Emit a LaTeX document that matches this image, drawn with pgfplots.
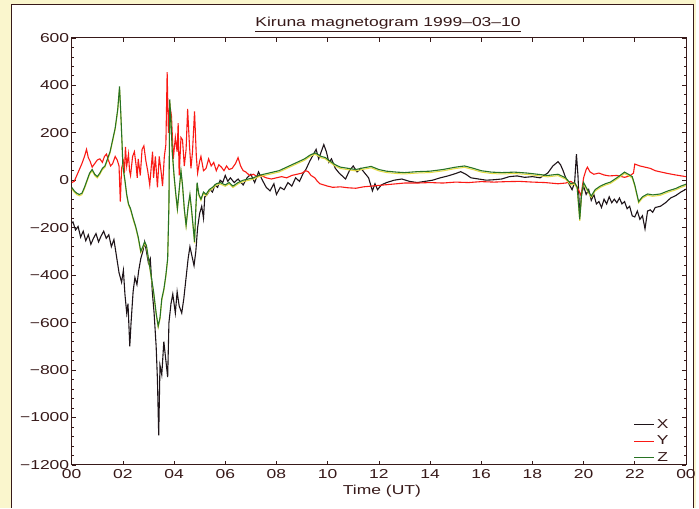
\documentclass[border=0pt]{standalone}
\usepackage{fontspec}
\setmainfont{Liberation Sans}[FakeStretch=1.35]
\usepackage{pgfplots}
\pgfplotsset{compat=1.18}
\usepackage{pgfplotstable}

\definecolor{bgbeige}{RGB}{250,246,205}
\definecolor{framedark}{RGB}{55,25,25}
\definecolor{xblack}{RGB}{30,20,25}
\definecolor{yred}{RGB}{250,25,20}
\definecolor{zgreen}{RGB}{40,115,35}
\definecolor{zyellow}{RGB}{230,220,70}

% X component (nT)
\pgfplotstableread{
h v
0.00 -180
0.05 -176
0.15 -210
0.25 -195
0.35 -240
0.45 -215
0.55 -255
0.65 -230
0.75 -270
0.85 -245
0.95 -225
1.05 -260
1.15 -235
1.25 -215
1.35 -245
1.45 -230
1.55 -280
1.65 -250
1.75 -320
1.85 -390
1.95 -430
2.02 -380
2.08 -480
2.15 -560
2.20 -520
2.27 -700
2.32 -600
2.40 -470
2.47 -410
2.55 -440
2.62 -380
2.70 -330
2.78 -300
2.85 -260
2.92 -300
3.00 -350
3.07 -330
3.15 -470
3.22 -560
3.30 -700
3.35 -840
3.40 -1075
3.45 -780
3.52 -820
3.60 -680
3.68 -760
3.75 -830
3.80 -600
3.88 -520
3.95 -480
4.05 -560
4.12 -470
4.20 -530
4.30 -560
4.38 -500
4.45 -430
4.55 -330
4.62 -280
4.70 -320
4.78 -360
4.85 -300
4.92 -200
5.00 -140
5.08 -110
5.15 -160
5.20 -70
5.30 -60
5.40 -40
5.50 -50
5.60 -20
5.70 -30
5.80 0
5.90 -10
6.00 20
6.10 -5
6.20 10
6.35 -10
6.50 5
6.70 -20
6.85 10
7.00 25
7.15 -10
7.30 35
7.45 0
7.60 -30
7.75 -45
7.90 -15
8.00 -60
8.15 -30
8.30 -40
8.45 -10
8.60 -25
8.75 10
8.90 -5
9.05 30
9.15 45
9.30 80
9.45 110
9.55 130
9.65 90
9.75 120
9.85 150
9.95 120
10.05 75
10.15 90
10.30 50
10.45 30
10.60 15
10.70 5
10.85 40
11.00 60
11.15 35
11.30 50
11.45 30
11.60 10
11.75 -45
11.85 -15
11.95 -40
12.10 -20
12.30 -10
12.60 0
12.90 5
13.20 -5
13.50 -10
13.80 -5
14.10 0
14.40 10
14.70 18
15.00 28
15.20 36
15.40 25
15.60 10
15.90 5
16.20 0
16.50 2
16.80 5
17.10 15
17.40 18
17.70 12
18.00 15
18.30 10
18.60 30
18.80 60
19.00 78
19.10 65
19.20 40
19.30 10
19.45 -20
19.55 -40
19.65 -10
19.72 110
19.78 20
19.85 -150
19.92 -60
20.00 -25
20.10 -60
20.20 -40
20.30 -85
20.40 -60
20.50 -100
20.60 -90
20.70 -115
20.80 -80
20.90 -100
21.00 -70
21.10 -95
21.20 -80
21.30 -95
21.40 -75
21.50 -100
21.60 -90
21.70 -120
21.80 -110
21.90 -150
22.00 -155
22.10 -130
22.20 -165
22.30 -150
22.40 -205
22.50 -130
22.60 -125
22.70 -135
22.80 -115
23.00 -110
23.20 -95
23.40 -75
23.60 -65
23.80 -50
24.00 -38
}\datax

% Y component (nT)
\pgfplotstableread{
h v
0.00 -10
0.10 -5
0.20 20
0.30 45
0.40 70
0.50 100
0.58 130
0.65 95
0.72 80
0.80 55
0.90 70
1.00 85
1.10 90
1.20 75
1.28 100
1.36 110
1.45 80
1.52 60
1.60 70
1.70 100
1.78 85
1.85 60
1.90 -90
1.95 50
2.02 80
2.06 30
2.10 140
2.15 60
2.22 110
2.26 40
2.30 20
2.38 100
2.45 120
2.52 60
2.56 10
2.60 90
2.68 20
2.75 130
2.82 145
2.90 80
2.97 40
3.05 -20
3.12 70
3.16 120
3.20 10
3.27 100
3.35 -30
3.42 100
3.50 30
3.55 -25
3.62 100
3.68 150
3.73 455
3.78 200
3.83 320
3.90 270
3.97 90
4.05 180
4.12 120
4.16 240
4.20 20
4.27 180
4.33 170
4.40 60
4.47 130
4.53 300
4.60 150
4.66 50
4.72 120
4.80 290
4.87 100
4.92 30
5.00 80
5.05 100
5.15 40
5.25 50
5.35 90
5.45 60
5.55 75
5.65 40
5.75 65
5.85 55
5.95 40
6.05 60
6.15 45
6.27 50
6.40 70
6.50 95
6.60 60
6.70 40
6.80 35
6.95 20
7.10 25
7.25 15
7.40 20
7.60 10
7.80 5
8.00 10
8.20 15
8.40 10
8.60 20
8.80 25
9.00 30
9.15 40
9.25 35
9.35 20
9.50 10
9.60 -5
9.70 -15
9.85 -20
10.00 -25
10.20 -30
10.50 -28
10.80 -32
11.10 -34
11.40 -28
11.70 -25
12.00 -22
12.50 -17
13.00 -12
13.50 -12
14.00 -10
14.50 -12
15.00 -8
15.50 -10
16.00 -6
16.50 -8
17.00 -6
17.50 -5
18.00 -8
18.50 -10
19.00 -15
19.30 -12
19.50 -5
19.70 -20
19.80 -40
19.90 -65
20.00 10
20.10 45
20.15 55
20.25 35
20.40 25
20.60 30
20.80 22
21.00 18
21.30 20
21.60 12
21.80 18
21.95 30
22.00 68
22.20 60
22.40 55
22.60 50
22.80 40
23.00 35
23.30 28
23.60 22
24.00 15
}\datay

% Z component (nT)
\pgfplotstableread{
h v
0.00 -30
0.10 -45
0.20 -55
0.30 -60
0.40 -55
0.50 -30
0.60 0
0.70 30
0.80 45
0.90 25
1.00 15
1.10 30
1.20 50
1.30 60
1.40 90
1.50 120
1.60 170
1.70 220
1.75 260
1.80 300
1.87 395
1.92 280
1.97 150
2.00 60
2.08 0
2.15 -60
2.22 -100
2.30 -120
2.40 -160
2.50 -195
2.60 -240
2.70 -300
2.78 -280
2.85 -260
2.92 -275
3.00 -330
3.10 -400
3.20 -470
3.30 -560
3.38 -615
3.45 -580
3.52 -500
3.60 -460
3.68 -400
3.75 -330
3.80 -100
3.83 340
3.88 250
3.93 120
4.00 20
4.07 -60
4.13 -120
4.20 -40
4.27 40
4.33 -20
4.40 -120
4.47 -190
4.55 -110
4.62 -60
4.68 -120
4.75 -200
4.80 -260
4.85 -120
4.90 -10
4.97 -60
5.05 -80
5.15 -50
5.25 -60
5.37 -40
5.50 -30
5.65 -15
5.80 -10
6.00 -20
6.15 -10
6.30 -25
6.50 -10
6.70 0
6.90 5
7.10 10
7.30 20
7.50 25
7.70 30
7.90 35
8.10 40
8.30 50
8.50 60
8.70 70
8.90 80
9.10 90
9.30 105
9.50 115
9.60 110
9.75 100
9.90 96
10.10 80
10.30 65
10.50 55
10.80 50
11.10 45
11.40 52
11.70 58
12.00 45
12.30 38
12.70 34
13.00 32
13.50 36
14.00 38
14.50 45
15.00 55
15.35 60
15.70 50
16.00 40
16.40 34
16.80 32
17.30 34
17.80 30
18.20 25
18.60 20
19.00 25
19.30 10
19.50 -15
19.65 -10
19.75 -30
19.85 -165
19.92 -60
20.00 -10
20.15 -40
20.30 -67
20.45 -40
20.65 -25
20.85 -15
21.05 -8
21.30 10
21.60 34
21.75 25
21.90 15
22.00 -20
22.15 -90
22.30 -70
22.50 -58
22.70 -62
23.00 -58
23.30 -45
23.60 -35
23.80 -25
24.00 -17
}\dataz

\begin{document}
\begin{tikzpicture}
\fill[bgbeige] (0pt,0pt) rectangle (699pt,510pt);
\fill[white] (12pt,0pt) rectangle (697pt,506pt);
\draw[framedark, line width=0.9pt] (12pt,0pt) -- (12pt,506pt) -- (697pt,506pt) -- (697pt,0pt);
\begin{axis}[
  at={(72pt,43pt)}, anchor=south west,
  scale only axis,
  width=617pt, height=429pt,
  xmin=0, xmax=24, ymin=-1200, ymax=600,
  xtick={0,2,...,24},
  xticklabels={00,02,04,06,08,10,12,14,16,18,20,22,00},
  ytick={-1200,-1000,...,600},
  yticklabels={−1200,−1000,−800,−600,−400,−200,0,200,400,600},
  minor y tick num=4,
  tick align=inside,
  major tick length=4pt,
  minor tick length=2pt,
  tick style={framedark, line width=0.6pt},
  axis line style={framedark, line width=0.9pt},
  ticklabel style={font=\fontsize{13}{15}\selectfont, text=framedark},
  xticklabel style={yshift=-1pt},
  yticklabel style={xshift=1pt},
  title={\underline{Kiruna magnetogram 1999–03–10}},
  title style={at={(axis description cs:0.515,1)}, anchor=base, yshift=5pt,
    font=\fontsize{13}{15}\selectfont, text=framedark},
  xlabel={Time (UT)},
  xlabel style={at={(axis description cs:0.505,0)}, anchor=north, yshift=-17pt,
    font=\fontsize{13}{15}\selectfont, text=framedark},
  legend style={draw=none, fill=none, at={(axis description cs:0.975,0.0)},
    anchor=south east, font=\fontsize{13}{15}\selectfont, text=framedark,
    row sep=2pt, inner sep=0pt},
  legend image code/.code={\draw[#1] (0pt,0pt) -- (20pt,0pt);},
  clip=true,
]
\addplot[xblack, line width=1.1pt] table[x=h, y=v] {\datax};
\addplot[yred, line width=1.1pt] table[x=h, y=v] {\datay};
\addplot[zyellow, line width=1pt, yshift=-1.4pt, forget plot] table[x=h, y=v] {\dataz};
\addplot[zgreen, line width=1.1pt] table[x=h, y=v] {\dataz};
\legend{X,Y,Z}
\end{axis}
\end{tikzpicture}
\end{document}
